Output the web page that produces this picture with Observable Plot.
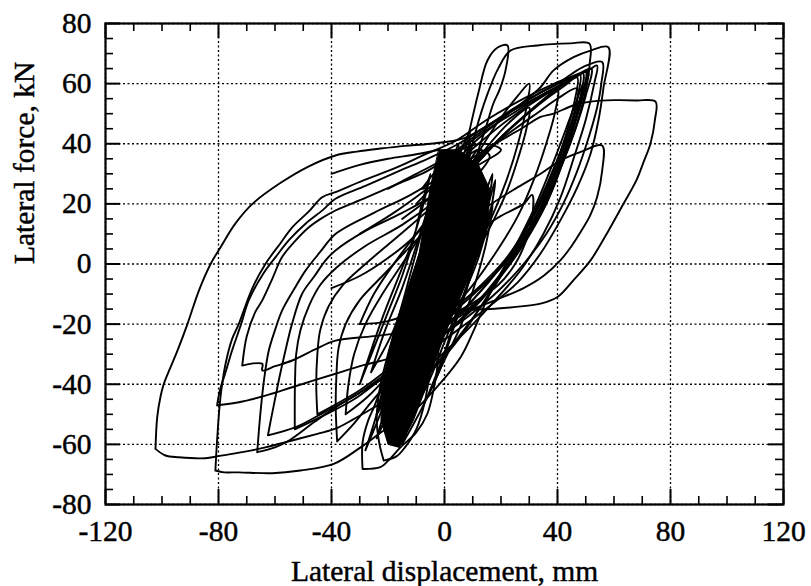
<!DOCTYPE html>
<html><head><meta charset="utf-8">
<script src="https://cdn.jsdelivr.net/npm/d3@7"></script>
<script src="https://cdn.jsdelivr.net/npm/@observablehq/plot@0.6"></script>
<style>body{margin:0;background:#fff}#chart svg{display:block}#chart svg text{stroke:black;stroke-width:0.45px}</style>
</head><body><div id="chart"></div>
<script>
// ---- axis ticks / labels ----
const xMajor = [-120, -80, -40, 0, 40, 80, 120];
const xMinor = [-110, -100, -90, -70, -60, -50, -30, -20, -10, 10, 20, 30, 50, 60, 70, 90, 100, 110];
const yMajor = [-80, -60, -40, -20, 0, 20, 40, 60, 80];
const yMinor = [-75, -70, -65, -55, -50, -45, -35, -30, -25, -15, -10, -5, 5, 10, 15, 25, 30, 35, 45, 50, 55, 65, 70, 75];
const xTitle = "Lateral displacement, mm";
const yTitle = "Lateral force, kN";

// ---- hysteresis loops [displacement mm, force kN] ----
const loopA = [[-102.3,-61.5],[-101.7,-51],[-100.5,-44],[-99.4,-40],[-97.5,-35.5],[-94.6,-29],[-91,-20],[-87,-9],[-82.8,0],[-79,6],[-74,13.5],[-68,20],[-58,27],[-48,32.5],[-38.6,36.1],[-31,37.4],[-22.7,38.4],[-14,39.3],[-5,40],[6.7,41.8],[15,46],[25,52],[35,57.5],[45,62],[51,64.5],[54,66],[53,60],[50,48],[46,36],[41,22],[35,10],[27,-2],[18,-12],[8,-22],[-2,-31],[-12,-39],[-22,-46],[-32,-51.5],[-38.6,-54.8],[-45,-56.5],[-53.9,-58.7],[-63.4,-61],[-71.6,-62.6],[-80,-63.9],[-84.6,-64.6],[-94,-64.3],[-98.8,-63.7],[-102.3,-61.5]];
const loopB = [[-81.1,-68.7],[-80.5,-58.7],[-79.3,-44.3],[-77.5,-33.2],[-75.2,-25],[-72.8,-19.9],[-68,-8],[-63.4,0],[-58,7],[-53.9,12.2],[-48,17.5],[-43.3,22.2],[-38.6,23.9],[-28.7,27.8],[-16.7,32.2],[-6.1,36.8],[4,41],[15,48],[28,55],[40,60.5],[48,63.5],[52,65],[50,56],[46,44],[40,30],[33,16],[24,2],[16,-10],[10.4,-22],[5.7,-31],[-3.8,-42.1],[-12,-49.9],[-21.5,-55.4],[-29.7,-61],[-39.2,-66.5],[-51,-68.7],[-61,-69.6],[-72.8,-69.3],[-78,-69.3],[-81.1,-68.7]];
const loopC = [[-80.5,-47],[-79.5,-42],[-77.5,-36],[-75.2,-28.8],[-72,-20],[-69.3,-12.1],[-64,-3],[-59.8,2.3],[-55,8],[-49.2,13.4],[-43,18],[-38.6,21.7],[-28,26],[-16,31],[-6,35],[5,40],[16,46.5],[28,53],[40,59],[47,62.5],[50.5,64],[49,56],[46,46],[42,34],[37,22],[30,10],[22,-1],[13,-12],[4,-20],[-6,-26],[-18,-31],[-28,-33.5],[-38.6,-36.5],[-53.9,-41],[-63.4,-43.8],[-72.8,-46],[-80.5,-47]];
const loopD = [[-71.6,-33.8],[-70,-24],[-67,-16],[-64.5,-12.1],[-61,-5],[-57.5,2.3],[-53,7.5],[-48,12.2],[-43,15.5],[-38.6,17.8],[-28,22],[-17,26.5],[-6,31],[4,37],[14,44],[24,50],[36,57],[44,61],[49,63.5],[48,55],[45,44],[41,32],[36,20],[29,8],[20,-4],[11,-13],[1,-19],[-10,-22],[-25,-24],[-38.6,-25.5],[-46,-28.5],[-53.9,-32.1],[-60,-34],[-64.5,-35.4],[-64.5,-33.2],[-71.6,-33.8]];
const loopE = [[-66.3,-62.6],[-65.7,-55.4],[-65,-48],[-63.8,-38],[-62.2,-28.8],[-60,-22],[-57.5,-15.5],[-53,-8],[-49.2,-2.2],[-44,4],[-38.6,10],[-25,17],[-12,23],[0,30],[12,40],[24,49],[36,56.5],[46,62],[50,64],[49,57],[46,47],[42,36],[38,25],[32,14],[24,2],[15,-9],[5,-19],[-5,-27],[-15,-34],[-25,-40],[-38.6,-47.7],[-46,-52.5],[-55,-58.7],[-60,-61],[-66.3,-62.6]];
const loopF = [[-62.5,-57],[-61.5,-52],[-60,-45],[-58.5,-38],[-56.3,-28.8],[-54,-20],[-50.4,-9.9],[-46,-4],[-42.1,1.2],[-38.6,4.5],[-28,11],[-15,17],[-2,24],[10,33],[22,44],[34,54],[44,61],[48,63],[47,55],[44,44],[40,33],[35,22],[28,10],[20,-1],[10,-12],[0,-21],[-10,-29],[-20,-36],[-32,-44],[-42,-49],[-52,-54],[-62.5,-57]];
const loopG = [[-53,-55],[-53,-45],[-52.9,-38.7],[-52.5,-30],[-51,-22],[-48,-14],[-44,-7],[-38,-1],[-28,6],[-15,13],[-3,21],[8,30],[20,42],[32,52],[42,59],[47,62],[46,54],[43,43],[39,32],[34,21],[27,9],[18,-3],[8,-14],[-2,-23],[-12,-31],[-22,-38],[-32,-45],[-42,-50],[-53,-55]];
const loopH = [[-45,-50],[-45.4,-40],[-45,-30],[-44,-22],[-41,-14],[-36,-7],[-28,0],[-18,8],[-8,16],[2,24],[12,34],[22,44],[32,52],[40,58],[39,50],[36,40],[32,29],[26,16],[19,5],[10,-7],[0,-18],[-10,-27],[-20,-35],[-30,-42],[-45,-50]];
const loopI = [[-38,-59],[-38.5,-48],[-38.3,-38],[-37.5,-28],[-35,-20],[-30,-12],[-22,-4],[-14,4],[-6,12],[2,22],[10,34],[18,46],[26,56],[30,60],[29,52],[26,40],[22,28],[16,14],[9,1],[1,-12],[-8,-25],[-17,-36],[-26,-46],[-32,-53],[-38,-59]];
const loopJ = [[-29,-68.2],[-29,-59.3],[-27,-52],[-25,-47.7],[-21.5,-38.8],[-18,-31],[-14,-20],[-10,-8],[-6,4],[-2,16],[2,28],[6,38],[9,44],[8,36],[6,24],[4,12],[1,-2],[-1,-14],[-2,-26],[-2.5,-34],[-3.5,-40],[-6.1,-49.9],[-10,-56],[-15.6,-61],[-20,-65.5],[-22.7,-67.6],[-29,-68.2]];
const loopK = [[-21.5,-65.4],[-23,-60],[-24,-52],[-23,-42],[-20,-30],[-16,-18],[-11,-5],[-6,8],[-2,20],[2,32],[5,40],[4,30],[2,18],[0,6],[-2,-8],[-4,-22],[-5,-34],[-7,-46],[-10,-55],[-14,-61],[-17,-64],[-21.5,-65.4]];
const loopL = [[-6,-20],[-2,-5],[2,10],[5,25],[6.7,35],[9,45],[12,57],[15.2,67.7],[18.8,72],[22.3,72.7],[21.6,64.4],[19.5,58],[17.3,53.4],[14.5,45],[11.7,36.8],[9,26],[6,14],[3,2],[-1,-10],[-6,-20]];
const loopM = [[0,0],[5,20],[8,32],[11,44],[15,56],[19,65],[23.4,71],[32.9,72.7],[44.6,73.4],[51.3,73.3],[51.4,66.6],[50.5,60],[48.5,52],[46,44],[42,34],[37,24],[31,13],[24,3],[16,-5],[8,-12],[-2,-20]];
const loopN = [[-10,20],[0,30],[10,40],[20,48],[28,54],[34,58.8],[38.6,64.4],[45.7,68.8],[51.7,71],[58,72.1],[56.3,58.8],[54.5,47.8],[51.7,36.7],[47,25.5],[41,14.5],[34,3.5],[26,-6],[16,-14],[6,-21],[-4,-28],[-14,-35],[-24,-44]];
const loopO = [[-20,25],[-10,30],[0,35],[10,42],[22,50],[32,56],[40,60],[49,65.5],[55.8,67.2],[55.5,60],[54,52],[51,42],[47,31],[42,20],[36,10],[28,0],[19,-9],[9,-17],[-1,-24],[-11,-31]];
const loopP = [[-30,10],[-18,17],[-6,25],[6,33],[18,40],[28,45.5],[34,48.9],[38.6,50],[45.7,52.8],[51.7,54],[60,54.5],[68,54.4],[74.7,54],[74.5,48],[72.9,40],[70.5,34],[68,28],[63.4,20.1],[58,11],[51.7,1.2],[46,-5],[40,-11],[34,-13.2],[28,-14],[18.8,-14.8],[10,-15.2],[4.6,-15.5],[-3,-18],[-9,-24],[-14,-32],[-19,-42],[-24,-50]];
const loopQ = [[-5,5],[5,12],[15,19],[25,25],[34,30],[41,34.4],[48,37.2],[55.8,39.4],[55.8,31],[54,22.2],[51.5,16],[49.2,12.2],[45,6],[41,1.2],[35,-4],[28,-8],[18,-12],[8,-16],[-2,-22]];
const loopR = [[-15,15],[-5,22],[5,30],[15,38],[25,45],[34,51],[40,55],[47,58.4],[46.5,52],[44.5,44],[41,34],[36,23],[30,12],[22,2],[13,-7],[3,-15],[-7,-22]];
const loopS = [[-10,-5],[0,3],[10,10],[20,16],[28,20],[31,23],[31,15],[29,8],[25,0],[19,-7],[10,-13],[0,-18]];
const loopT = [[-35,-50],[-34,-40],[-32,-30],[-28,-20],[-22,-10],[-15,0],[-8,10],[0,20],[8,30],[16,40],[24,48],[30,52],[29,45],[26,35],[22,24],[16,12],[9,0],[1,-12],[-8,-24],[-18,-35],[-27,-44],[-35,-50]];
const loopU = [[-30,-20],[-25,-10],[-18,0],[-10,10],[-2,20],[6,30],[12,38],[11,28],[8,16],[4,4],[-2,-8],[-10,-15],[-20,-19],[-30,-20]];
const loopV = [[-10,-40],[0,-30],[10,-18],[20,-4],[28,10],[36,26],[43,42],[48,55],[51,63]];
const loopW = [[-15,-45],[-5,-36],[5,-25],[15,-11],[24,4],[32,19],[39,35],[45,50],[49,60]];
const loopX = [[-40,30],[-30,33],[-20,35],[-10,36.5],[-2,38]];
const loopY = [[-40,-8],[-30,-4],[-20,2],[-12,8],[-6,14]];
const core1 = [[-20,-56],[-17,-44],[-13,-30],[-9,-16],[-5,-2],[-1,12],[3,24],[7,34],[9,40],[8,30],[5,18],[2,4],[-2,-10],[-6,-24],[-10,-38],[-15,-50],[-20,-56]];
const core2 = [[-24,-50],[-21,-38],[-18,-24],[-14,-10],[-10,4],[-6,18],[-3,30],[0,38],[-1,26],[-3,14],[-6,0],[-10,-14],[-14,-28],[-19,-40],[-24,-50]];
const core3 = [[-15,-60],[-10,-46],[-5,-32],[0,-18],[5,-4],[10,10],[14,22],[17,30],[15,18],[12,6],[8,-8],[3,-22],[-2,-36],[-8,-48],[-15,-60]];
const core4 = [[-26,-36],[-21,-22],[-15,-8],[-10,6],[-6,18],[-3,28],[-5,16],[-9,2],[-14,-12],[-19,-24],[-26,-36]];
const core5 = [[-6,-44],[-1,-32],[4,-18],[9,-4],[13,8],[17,20],[15,8],[11,-6],[6,-20],[0,-32],[-6,-44]];
const core6 = [[-28,-62],[-24,-50],[-20,-36],[-16,-22],[-12,-8],[-8,6],[-10,-8],[-14,-22],[-18,-36],[-22,-48],[-28,-62]];
const core7 = [[-4,20],[0,28],[6,34],[12,38],[16,36],[12,30],[6,24],[0,20],[-4,20]];
const core8 = [[-24,-58],[-20,-45],[-15,-30],[-10,-15],[-6,0],[-2,15],[2,28],[5,36],[4,26],[1,12],[-3,-2],[-8,-16],[-13,-31],[-18,-45],[-24,-58]];
const core9 = [[-12,-50],[-6,-36],[0,-22],[6,-8],[11,6],[15,18],[18,28],[16,16],[12,2],[6,-12],[0,-26],[-6,-40],[-12,-50]];
const core10 = [[-30,-40],[-25,-28],[-20,-16],[-15,-4],[-11,8],[-8,20],[-5,30],[-8,18],[-12,6],[-17,-6],[-22,-18],[-30,-40]];
const core11 = [[-8,25],[-2,32],[6,38],[14,40],[20,38],[14,34],[6,30],[-2,26],[-8,25]];
// dense, fully inked centre of the record
const coreOutline = [[-2,38],[5,38],[12,33],[16,25],[15.5,14],[12,3],[7,-8],[2,-19],[-2.5,-30],[-6.5,-41],[-11,-52],[-16,-61],[-20,-60],[-22.5,-52],[-22,-41],[-20,-30],[-17,-19],[-13,-8],[-9,3.5],[-7,14.5],[-5,25.5]];

const loops = {A:loopA,B:loopB,C:loopC,D:loopD,E:loopE,F:loopF,G:loopG,H:loopH,I:loopI,J:loopJ,K:loopK,L:loopL,M:loopM,N:loopN,O:loopO,P:loopP,Q:loopQ,R:loopR,S:loopS,T:loopT,U:loopU,V:loopV,W:loopW,X:loopX,Y:loopY,c1:core1,c2:core2,c3:core3,c4:core4,c5:core5,c6:core6,c7:core7,c8:core8,c9:core9,c10:core10,c11:core11};
const table = [];
for (const [name, pts] of Object.entries(loops)) for (const [x, y] of pts) table.push({loop: name, x, y});
const coreTable = coreOutline.map(([x, y]) => ({x, y}));

const W = 811, H = 586, mL = 105, mR = 28, mT = 23, mB = 82;
const iw = W - mL - mR, ih = H - mT - mB;
const font = "'Liberation Serif', 'Times New Roman', serif";

const chart = Plot.plot({
  width: W, height: H,
  marginLeft: mL, marginRight: mR, marginTop: mT, marginBottom: mB,
  style: {fontFamily: font, background: "white", color: "black"},
  x: {domain: [-120, 120]},
  y: {domain: [-80, 80]},
  marks: [
    Plot.gridX(xMajor, {stroke: "black", strokeOpacity: 1, strokeWidth: 1.3, strokeDasharray: "2,2.5"}),
    Plot.gridY(yMajor, {stroke: "black", strokeOpacity: 1, strokeWidth: 1.3, strokeDasharray: "2,2.5"}),
    Plot.line(coreTable, {x: "x", y: "y", fill: "black", stroke: "black", strokeWidth: 1, curve: "linear-closed"}),
    Plot.line(table, {x: "x", y: "y", z: "loop", stroke: "black", strokeWidth: 1.9, curve: "catmull-rom"}),
    // inward ticks on all four sides
    Plot.ruleX(xMinor, {stroke: "black", strokeWidth: 1.6, insetTop: ih - 8}),
    Plot.ruleX(xMinor, {stroke: "black", strokeWidth: 1.6, insetBottom: ih - 8}),
    Plot.ruleX(xMajor, {stroke: "black", strokeWidth: 2, insetTop: ih - 15}),
    Plot.ruleX(xMajor, {stroke: "black", strokeWidth: 2, insetBottom: ih - 15}),
    Plot.ruleY(yMinor, {stroke: "black", strokeWidth: 1.6, insetRight: iw - 8}),
    Plot.ruleY(yMinor, {stroke: "black", strokeWidth: 1.6, insetLeft: iw - 8}),
    Plot.ruleY(yMajor, {stroke: "black", strokeWidth: 2, insetRight: iw - 15}),
    Plot.ruleY(yMajor, {stroke: "black", strokeWidth: 2, insetLeft: iw - 15}),
    Plot.axisX(xMajor, {tickSize: 0, tickPadding: 16, tickFormat: d => String(d), fontSize: 29.5, label: null}),
    Plot.axisY(yMajor, {tickSize: 0, tickPadding: 14, tickFormat: d => String(d), fontSize: 29.5, label: null}),
    Plot.frame({stroke: "black", strokeWidth: 2.2}),
    Plot.text([xTitle], {text: d => d, frameAnchor: "bottom", dy: 67, lineAnchor: "middle", fontSize: 29.5}),
    Plot.text([yTitle], {text: d => d, frameAnchor: "left", dx: -81, rotate: -90, lineAnchor: "middle", fontSize: 29.5})
  ]
});
document.getElementById("chart").appendChild(chart);
</script>
</body></html>
